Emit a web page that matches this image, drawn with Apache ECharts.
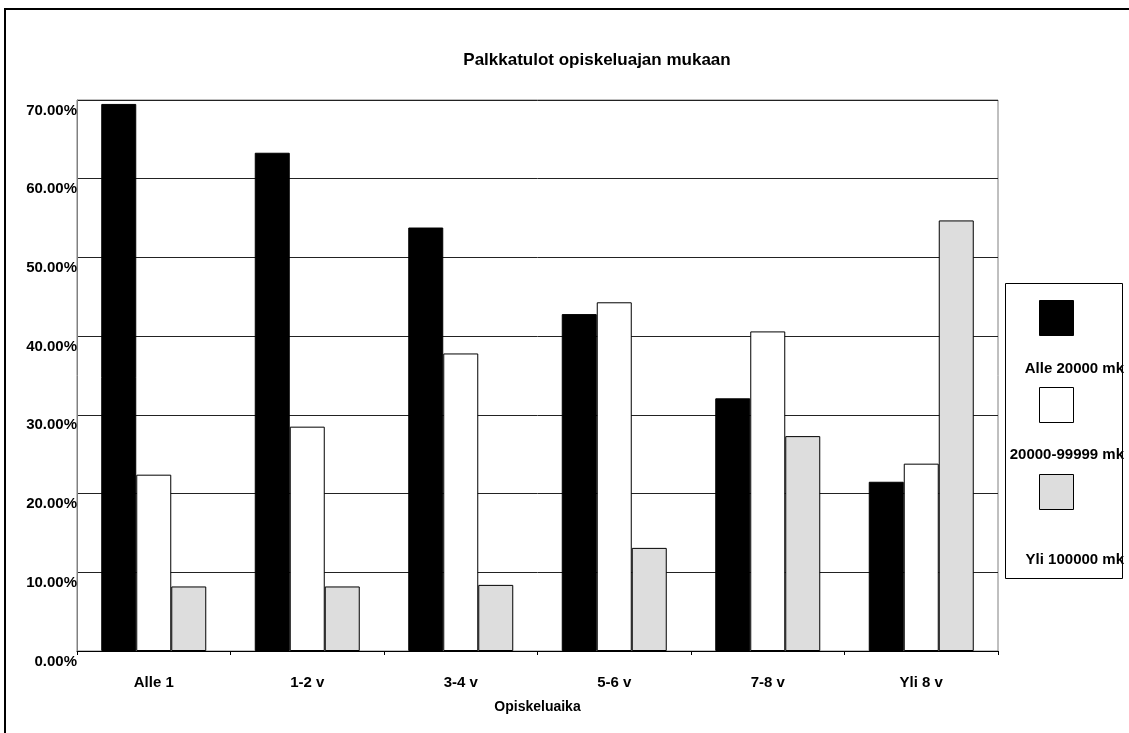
<!DOCTYPE html>
<html>
<head>
<meta charset="utf-8">
<script src="https://cdn.jsdelivr.net/npm/echarts@6/dist/echarts.min.js"></script>
<style>
html,body{margin:0;padding:0;background:#fff;}
#chart{width:1129px;height:733px;}
</style>
</head>
<body>
<div id="chart"></div>
<script>
var categories = ['Alle 1', '1-2 v', '3-4 v', '5-6 v', '7-8 v', 'Yli 8 v'];
var seriesNames = ['Alle 20000 mk', '20000-99999 mk', 'Yli 100000 mk'];
var alle20000 = [69.5, 63.3, 53.8, 42.8, 32.1, 21.5];
var mid20000_99999 = [22.4, 28.5, 37.8, 44.3, 40.6, 23.8];
var yli100000 = [8.2, 8.2, 8.4, 13.1, 27.3, 54.7];
var yTicks = [0, 10, 20, 30, 40, 50, 60, 70];
var titleText = 'Palkkatulot opiskeluajan mukaan';
var xAxisName = 'Opiskeluaika';

var colors = ['#000000', '#ffffff', '#dddddd'];
var values = [alle20000, mid20000_99999, yli100000];
var FONT = 'Liberation Sans, Arial, sans-serif';

var chart = echarts.init(document.getElementById('chart'), null, {renderer: 'canvas'});

var series = seriesNames.map(function (n, i) {
  return {
    name: n,
    type: 'bar',
    data: values[i],
    barWidth: 35,
    barGap: '0%',
    itemStyle: {color: colors[i], borderColor: '#000', borderWidth: 1},
    emphasis: {disabled: true},
    silent: true
  };
});

// legend drawn as graphic elements (icon above text)
var legendGraphics = [{
  type: 'rect',
  shape: {x: 1005.5, y: 283.5, width: 117, height: 295},
  style: {fill: '#fff', stroke: '#000', lineWidth: 1},
  z: 10
}];
var iconY = [300, 387, 474];
var textY = [369, 455, 560];
seriesNames.forEach(function (n, i) {
  legendGraphics.push({
    type: 'rect',
    shape: {x: 1039.5, y: iconY[i] + 0.5, width: 34, height: 35},
    style: {fill: colors[i], stroke: '#000', lineWidth: 1},
    z: 11
  });
  legendGraphics.push({
    type: 'text',
    x: 1124,
    y: textY[i],
    style: {text: n, font: 'bold 15px ' + FONT, fill: '#000', textAlign: 'right', textVerticalAlign: 'middle'},
    z: 12
  });
});

var option = {
  animation: false,
  backgroundColor: '#fff',
  title: {
    text: titleText,
    left: 592,
    top: 47,
    textAlign: 'center',
    textStyle: {fontFamily: FONT, fontWeight: 'bold', fontSize: 17, color: '#000'}
  },
  grid: {
    left: 77, right: 131, top: 100, bottom: 82,
    show: true, borderColor: '#808080', borderWidth: 1, backgroundColor: 'transparent'
  },
  xAxis: {
    type: 'category',
    data: categories,
    name: xAxisName,
    nameLocation: 'middle',
    nameGap: 49,
    nameTextStyle: {fontFamily: FONT, fontWeight: 'bold', fontSize: 14, color: '#000'},
    axisLine: {show: true, lineStyle: {color: '#000', width: 1}},
    axisTick: {show: true, length: 4, lineStyle: {color: '#000'}},
    axisLabel: {margin: 24, fontFamily: FONT, fontWeight: 'bold', fontSize: 15, color: '#000'},
    splitLine: {show: false}
  },
  yAxis: {
    type: 'value',
    min: yTicks[0],
    max: yTicks[yTicks.length - 1],
    interval: yTicks[1] - yTicks[0],
    axisLine: {show: true, lineStyle: {color: '#808080', width: 1}},
    axisTick: {show: false},
    axisLabel: {
      margin: 0,
      fontFamily: FONT, fontWeight: 'bold', fontSize: 15, color: '#000',
      verticalAlign: 'top',
      padding: [3, 0, 0, 0],
      formatter: function (v) { return v.toFixed(2) + '%'; }
    },
    splitLine: {show: true, lineStyle: {color: '#222', width: 1}}
  },
  series: series,
  graphic: [{
    type: 'rect',
    shape: {x: 5, y: 9, width: 1200, height: 800},
    style: {fill: 'none', stroke: '#000', lineWidth: 2},
    z: 0
  }].concat(legendGraphics)
};
chart.setOption(option);
</script>
</body>
</html>
